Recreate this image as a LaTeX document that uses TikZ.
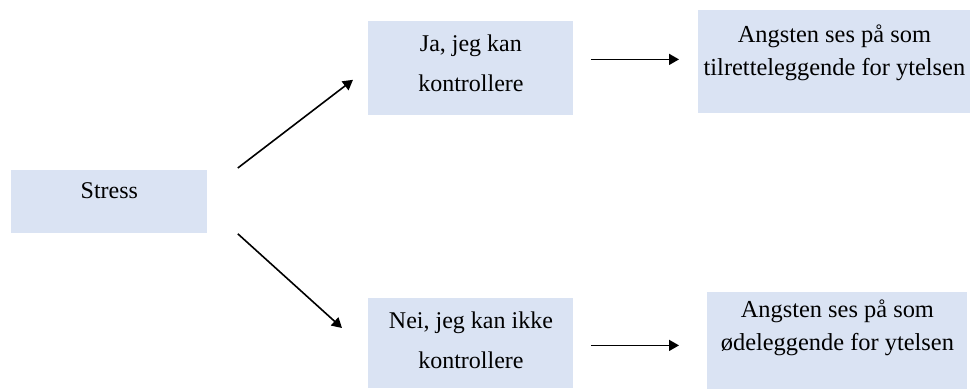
\documentclass[tikz,border=0pt]{standalone}
\usepackage{fontspec}
\setmainfont{LiberationSerif}[Extension=.ttf, UprightFont=*-Regular,
	BoldFont=*-Bold, ItalicFont=*-Italic, BoldItalicFont=*-BoldItalic]
\usetikzlibrary{arrows.meta}
\definecolor{boxblue}{HTML}{DAE3F3}

\begin{document}
\begin{tikzpicture}
	[x=0.5pt, y=-0.5pt,
	box/.style={fill=boxblue,inner sep=0pt,anchor=north west,align=center},
	mid/.style={box,minimum width=102.5pt,font=\fontsize{12}{20}\selectfont},
	res/.style={box,font=\fontsize{12.2}{16.5}\selectfont},
	arr/.style={line width=0.8pt,-{Triangle[length=5pt,width=5.5pt]}}]
	\useasboundingbox (0,0) rectangle (972,390);
	\node (stress) [box, minimum width=98pt, font=\fontsize{12}{14}\selectfont,
		text height=14pt, text depth=17.5pt] at (11,170) {Stress};
	\node (ja) [mid, text height=34.85pt, text depth=12.15pt] at (368,21)
		{Ja, jeg kan\\kontrollere};
	\node (nei) [mid, text height=35pt, text depth=10pt] at (368,298)
		{Nei, jeg kan ikke\\kontrollere};
	\node (pos) [res, minimum width=136pt, text height=32.5pt, text depth=19pt] at (698,10)
		{Angsten ses på som\\tilretteleggende for ytelsen};
	\node (neg) [res, minimum width=130pt, text height=29pt, text depth=19.5pt] at (707,292)
		{Angsten ses på som\\ødeleggende for ytelsen};
	\draw [arr] ([shift={(30,-2)}]stress.north east) -- ([shift={(-15,-36)}]ja.south west);
	\draw [arr] ([shift={(30,0)}]stress.south east) -- ([shift={(-26,30)}]nei.north west);
	\draw [arr] ([shift={(17,-9)}]ja.east) -- ([shift={(-19,-2.5)}]pos.west);
	\draw [arr] ([shift={(17,2)}]nei.east) -- ([shift={(-28,4.5)}]neg.west);
\end{tikzpicture}
\end{document}
